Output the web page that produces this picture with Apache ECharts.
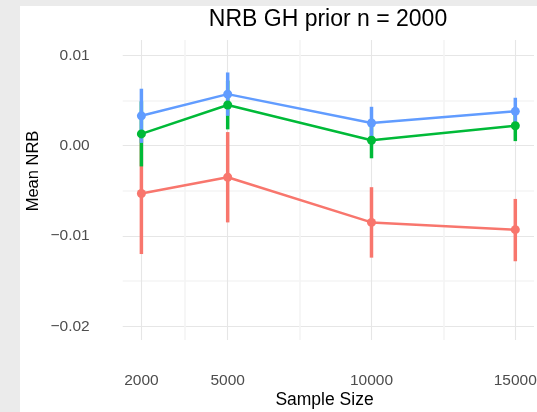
<!DOCTYPE html>
<html>
<head>
<meta charset="utf-8">
<script src="https://cdn.jsdelivr.net/npm/echarts@6/dist/echarts.min.js"></script>
<style>
  html, body { margin: 0; padding: 0; background: #ebebeb; }
  #panel { position: absolute; left: 20px; top: 6px; width: 517px; height: 406px; background: #ffffff; }
  #chart { position: absolute; left: 0; top: 0; width: 537px; height: 412px; }
</style>
</head>
<body>
<div id="panel"></div>
<div id="chart"></div>
<script>
// ---- data ----
const sampleSizes = [2000, 5000, 10000, 15000];
const xTicks = [2000, 5000, 10000, 15000];
const xMinorTicks = [3500, 7500, 12500];
const yTicks = [-0.02, -0.01, 0, 0.01];
const yMinorTicks = [-0.015, -0.005, 0.005];

const redMean  = [-0.0053, -0.0035, -0.0085, -0.0093];
const redLow   = [-0.0120, -0.0085, -0.0124, -0.0128];
const redHigh  = [ 0.0014,  0.0015, -0.0046, -0.0059];

const greenMean = [0.0013, 0.0045, 0.0006, 0.0022];
const greenLow  = [-0.0023, 0.0018, -0.0014, 0.0005];
const greenHigh = [0.0049, 0.0072, 0.0026, 0.0039];

const blueMean = [0.0033, 0.0057, 0.0025, 0.0038];
const blueLow  = [0.0003, 0.0033, 0.0006, 0.0022];
const blueHigh = [0.0063, 0.0081, 0.0043, 0.0053];

const titleText = 'NRB GH prior n = 2000';
const xTitle = 'Sample Size';
const yTitle = 'Mean NRB';

// ---- chart ----
const FONT = '"Liberation Sans", Arial, sans-serif';
const chart = echarts.init(document.getElementById('chart'), null, { renderer: 'canvas' });

function lineSeries(means, color, z) {
  return {
    type: 'line',
    data: sampleSizes.map((x, i) => [x, means[i]]),
    symbol: 'circle',
    symbolSize: 9,
    lineStyle: { color: color, width: 2.5 },
    itemStyle: { color: color },
    emphasis: { disabled: true },
    z: z,
    silent: true
  };
}
function errSeries(lows, highs, color, z) {
  return {
    type: 'custom',
    data: sampleSizes.map((x, i) => [x, lows[i], highs[i]]),
    encode: { x: 0, y: [1, 2] },
    z: z,
    silent: true,
    renderItem: function (params, api) {
      const x = api.value(0);
      const p1 = api.coord([x, api.value(1)]);
      const p2 = api.coord([x, api.value(2)]);
      return {
        type: 'line',
        shape: { x1: p1[0], y1: p1[1], x2: p2[0], y2: p2[1] },
        style: { stroke: color, lineWidth: 3.5, lineCap: 'butt' }
      };
    }
  };
}

const xMin = 1350, xMax = 15650;
const yMin = -0.021517, yMax = 0.011694;
const fmtY = v => {
  const s = Math.abs(v) < 1e-12 ? '0.00' : v.toFixed(2);
  return s.replace('-', '\u2212');
};

const option = {
  animation: false,
  textStyle: { fontFamily: FONT },
  title: {
    text: titleText,
    left: 328,
    top: 8,
    textAlign: 'center',
    padding: 0,
    textStyle: { fontFamily: FONT, fontSize: 23, fontWeight: 'normal', color: '#000000' }
  },
  grid: { left: 122.7, right: 3, top: 40, bottom: 72, containLabel: false, outerBoundsMode: 'none' },
  graphic: [
    {
      type: 'text', x: 33, y: 171, rotation: Math.PI / 2, silent: true,
      style: { text: yTitle, textAlign: 'center', textVerticalAlign: 'middle',
               font: '16.5px "Liberation Sans", Arial, sans-serif', fill: '#000000' }
    },
    {
      type: 'text', x: 324.5, y: 400, silent: true,
      style: { text: xTitle, textAlign: 'center', textVerticalAlign: 'middle',
               font: '17.5px "Liberation Sans", Arial, sans-serif', fill: '#000000' }
    }
  ],
  xAxis: [
    {
      type: 'value', min: xMin, max: xMax,
      axisLine: { show: false },
      axisTick: { show: false, customValues: xTicks },
      axisLabel: { customValues: xTicks, margin: 33, fontSize: 15.5, color: '#4D4D4D', fontFamily: FONT,
                   formatter: v => String(v) },
      splitLine: { show: true, lineStyle: { color: '#e6e6e6', width: 1.1 } }
    },
    {
      type: 'value', min: xMin, max: xMax, position: 'bottom',
      axisLine: { show: false },
      axisTick: { show: false, customValues: xMinorTicks },
      axisLabel: { show: false, customValues: xMinorTicks },
      splitLine: { show: true, lineStyle: { color: '#f4f4f4', width: 1.6 } }
    }
  ],
  yAxis: [
    {
      type: 'value', min: yMin, max: yMax,
      axisLine: { show: false },
      axisTick: { show: false, customValues: yTicks },
      axisLabel: { customValues: yTicks, margin: 33, fontSize: 15.5, color: '#4D4D4D', fontFamily: FONT, formatter: fmtY },
      splitLine: { show: true, lineStyle: { color: '#e6e6e6', width: 1.1 } }
    },
    {
      type: 'value', min: yMin, max: yMax, position: 'left',
      axisLine: { show: false },
      axisTick: { show: false, customValues: yMinorTicks },
      axisLabel: { show: false, customValues: yMinorTicks },
      splitLine: { show: true, lineStyle: { color: '#f4f4f4', width: 1.6 } }
    }
  ],
  series: [
    errSeries(redLow, redHigh, '#F8766D', 2),
    errSeries(greenLow, greenHigh, '#00BA38', 2),
    errSeries(blueLow, blueHigh, '#619CFF', 2),
    lineSeries(redMean, '#F8766D', 3),
    lineSeries(greenMean, '#00BA38', 4),
    lineSeries(blueMean, '#619CFF', 5)
  ]
};
chart.setOption(option);
</script>
</body>
</html>
